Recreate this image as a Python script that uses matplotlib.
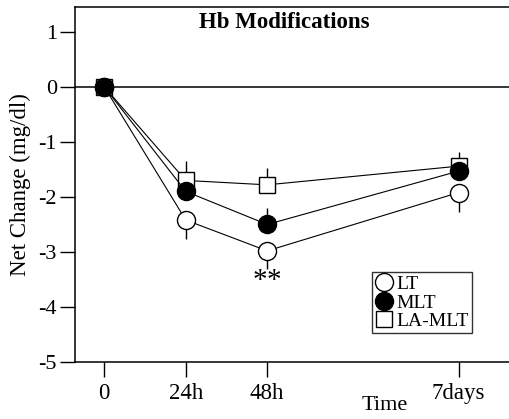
import numpy as np
import matplotlib
matplotlib.use("Agg")
import matplotlib.pyplot as plt

plt.rcParams['font.family'] = ['Liberation Serif', 'DejaVu Serif']
plt.rcParams['axes.unicode_minus'] = False

# posiciones en el eje de tiempo (no lineales en el original)
tiempos = [0, 1, 2, 4.35]
etiquetas = ["0", "24h", "48h", "7days"]

lt = [0.0, -2.42, -2.98, -1.92]
lt_err = [0.0, 0.35, 0.33, 0.35]
mlt = [0.0, -1.9, -2.5, -1.53]
mlt_err = [0.0, 0.25, 0.3, 0.1]
lamlt = [0.0, -1.7, -1.78, -1.44]
lamlt_err = [0.0, 0.35, 0.3, 0.25]

fig = plt.figure(figsize=(5.09, 4.19), dpi=100)
ax = fig.add_axes([0.1473, 0.136, 0.853, 0.847])

ax.axhline(0, color="black", lw=1.1, zorder=1)

# barras de error (de un solo lado, como en el original)
ax.errorbar(tiempos, lamlt, yerr=[np.zeros(4), lamlt_err], fmt="none",
            ecolor="black", elinewidth=1.0, capsize=0, zorder=2)
ax.errorbar(tiempos, mlt, yerr=[np.zeros(4), mlt_err], fmt="none",
            ecolor="black", elinewidth=1.0, capsize=0, zorder=2)
ax.errorbar(tiempos, lt, yerr=[lt_err, np.zeros(4)], fmt="none",
            ecolor="black", elinewidth=1.0, capsize=0, zorder=2)

ax.plot(tiempos, lamlt, color="black", lw=0.8, marker="s", ms=12,
        mfc="white", mec="black", mew=1.0, label="LA-MLT", zorder=3)
ax.plot(tiempos, lt, color="black", lw=0.8, marker="o", ms=13,
        mfc="white", mec="black", mew=1.0, label="LT", zorder=4)
ax.plot(tiempos, mlt, color="black", lw=0.8, marker="o", ms=13,
        mfc="black", mec="black", mew=1.0, label="MLT", zorder=5)

# significancia
ax.text(tiempos[2] - 0.085, -3.53, "*", ha="center", va="center", fontsize=21)
ax.text(tiempos[2] + 0.085, -3.53, "*", ha="center", va="center", fontsize=21)

ax.set_xlim(-0.36, 4.97)
ax.set_ylim(-5, 1.45)
ax.set_yticks([1, 0, -1, -2, -3, -4, -5])
ax.set_xticks(tiempos)
ax.set_xticklabels(etiquetas)
ax.tick_params(axis="both", direction="out", width=1, colors="black")
ax.tick_params(axis="y", length=11, pad=2, labelsize=16)
ax.tick_params(axis="x", length=11, pad=4, labelsize=16.5)

ax.spines["right"].set_visible(False)
for s in ["left", "bottom", "top"]:
    ax.spines[s].set_linewidth(1.1)

ax.set_ylabel("Net Change (mg/dl)", fontsize=16.5, labelpad=5)
fig.text(284 / 509, 1 - 22 / 419, "Hb Modifications", ha="center",
         va="center", fontsize=16.5, fontweight="bold")
fig.text(385 / 509, 1 - 405 / 419, "Time", ha="center", va="center", fontsize=16)

h, l = ax.get_legend_handles_labels()
orden = [1, 2, 0]
leg = ax.legend([h[i] for i in orden], [l[i] for i in orden],
                loc="lower left", bbox_to_anchor=((372 - 75) / 434, (362 - 333) / 355),
                fontsize=14, frameon=True, fancybox=False, edgecolor="black",
                handlelength=0.9, handletextpad=0.2, borderpad=0.15,
                labelspacing=0.05, borderaxespad=0)
leg.get_frame().set_linewidth(1.0)
for lh in leg.legend_handles:
    lh.set_linestyle("none")

fig.savefig("out.png", dpi=100)
